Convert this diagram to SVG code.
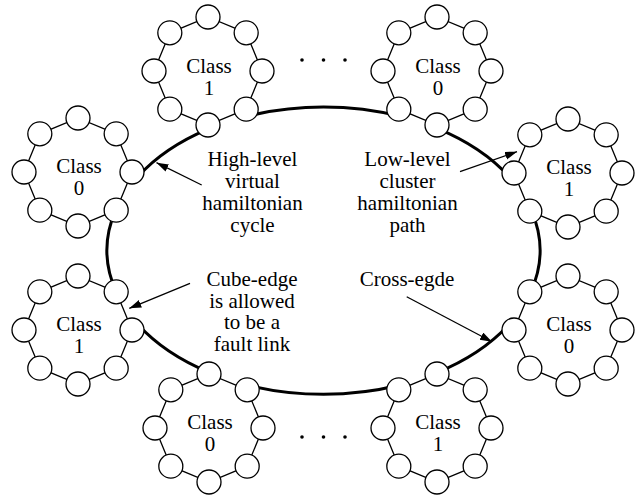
<svg xmlns="http://www.w3.org/2000/svg" xmlns:xlink="http://www.w3.org/1999/xlink" width="637" height="498" viewBox="0 0 637 498">
<style>
  .ring { fill: #fff; stroke: #000; stroke-width: 1.3; }
  .node { fill: #fff; stroke: #000; stroke-width: 1.3; }
  .cyc { fill: none; stroke: #000; stroke-width: 3; }
  .arr { fill: none; stroke: #000; stroke-width: 1.3; marker-end: url(#ah); }
  text { font-family: "Liberation Serif", "Times New Roman", serif; font-size: 21px; fill: #000; text-anchor: middle; }
  .dot { fill: #000; }
</style>
<defs>
  <marker id="ah" markerUnits="userSpaceOnUse" markerWidth="13" markerHeight="9" refX="12" refY="4" orient="auto">
    <path d="M0,0 L12,4 L0,8 z" fill="#000"/>
  </marker>
  <g id="cl">
    <polygon class="ring" points="0,-54 38.18,-38.18 54,0 38.18,38.18 0,54 -38.18,38.18 -54,0 -38.18,-38.18"/>
    <circle class="node" cx="0" cy="-54" r="12"/>
    <circle class="node" cx="38.18" cy="-38.18" r="12"/>
    <circle class="node" cx="54" cy="0" r="12"/>
    <circle class="node" cx="38.18" cy="38.18" r="12"/>
    <circle class="node" cx="0" cy="54" r="12"/>
    <circle class="node" cx="-38.18" cy="38.18" r="12"/>
    <circle class="node" cx="-54" cy="0" r="12"/>
    <circle class="node" cx="-38.18" cy="-38.18" r="12"/>
  </g>
</defs>

<g id="connectors">
  <path class="cyc" d="M246.5,116.4 A216.5,143.5 0 0 1 400.5,116.4"/>
  <path class="cyc" d="M437,128.3 A216.5,143.5 0 0 1 510,177.6"/>
  <path class="cyc" d="M531.7,211.2 A216.5,143.5 0 0 1 530.8,291.8"/>
  <path class="cyc" d="M508,325.6 A216.5,143.5 0 0 1 437,372.7"/>
  <path class="cyc" d="M400,385 A216.5,143.5 0 0 1 247,385"/>
  <path class="cyc" d="M209,372.3 A216.5,143.5 0 0 1 138,324.5"/>
  <path class="cyc" d="M116.2,291.8 A216.5,143.5 0 0 1 115.7,210.2"/>
  <path class="cyc" d="M138,176.5 A216.5,143.5 0 0 1 208,129.1"/>
</g>

<g id="cluster-top-left">
  <use xlink:href="#cl" x="208" y="71"/>
  <text x="209" y="73">Class</text>
  <text x="209" y="95">1</text>
</g>
<g id="cluster-top-right">
  <use xlink:href="#cl" x="437" y="71"/>
  <text x="438" y="73">Class</text>
  <text x="438" y="95">0</text>
</g>
<g id="cluster-left-upper">
  <use xlink:href="#cl" x="78" y="172"/>
  <text x="79" y="173">Class</text>
  <text x="79" y="195">0</text>
</g>
<g id="cluster-left-lower">
  <use xlink:href="#cl" x="78" y="330"/>
  <text x="79" y="331">Class</text>
  <text x="79" y="353">1</text>
</g>
<g id="cluster-right-upper">
  <use xlink:href="#cl" x="568" y="173"/>
  <text x="569" y="174">Class</text>
  <text x="569" y="196">1</text>
</g>
<g id="cluster-right-lower">
  <use xlink:href="#cl" x="568" y="330"/>
  <text x="569" y="331">Class</text>
  <text x="569" y="353">0</text>
</g>
<g id="cluster-bottom-left">
  <use xlink:href="#cl" x="209" y="428"/>
  <text x="210" y="429">Class</text>
  <text x="210" y="451">0</text>
</g>
<g id="cluster-bottom-right">
  <use xlink:href="#cl" x="437" y="428"/>
  <text x="438" y="429">Class</text>
  <text x="438" y="451">1</text>
</g>

<g id="ellipsis-top">
  <circle class="dot" cx="302" cy="60" r="1.8"/>
  <circle class="dot" cx="323.5" cy="60" r="1.8"/>
  <circle class="dot" cx="345" cy="60" r="1.8"/>
</g>
<g id="ellipsis-bottom">
  <circle class="dot" cx="302" cy="437" r="1.8"/>
  <circle class="dot" cx="323.5" cy="437" r="1.8"/>
  <circle class="dot" cx="345" cy="437" r="1.8"/>
</g>

<g id="label-high-level">
  <text x="252.5" y="165.7">High-level</text>
  <text x="252.5" y="187.7">virtual</text>
  <text x="252.5" y="209.7">hamiltonian</text>
  <text x="252.5" y="231.7">cycle</text>
</g>
<g id="label-low-level">
  <text x="407.5" y="165.7">Low-level</text>
  <text x="407.5" y="187.7">cluster</text>
  <text x="407.5" y="209.7">hamiltonian</text>
  <text x="407.5" y="231.7">path</text>
</g>
<g id="label-cube-edge">
  <text x="252" y="285.7">Cube-edge</text>
  <text x="252" y="307.5">is allowed</text>
  <text x="252" y="329.3">to be a</text>
  <text x="252" y="351">fault link</text>
</g>
<g id="label-cross-edge">
  <text x="407" y="285.7">Cross-egde</text>
</g>

<g id="arrows">
  <line class="arr" x1="201.7" y1="185" x2="156.5" y2="162.7"/>
  <line class="arr" x1="460" y1="171.7" x2="517" y2="151.7"/>
  <line class="arr" x1="190" y1="283.3" x2="129.3" y2="308.3"/>
  <line class="arr" x1="406.7" y1="296.7" x2="492" y2="341.7"/>
</g>
</svg>
